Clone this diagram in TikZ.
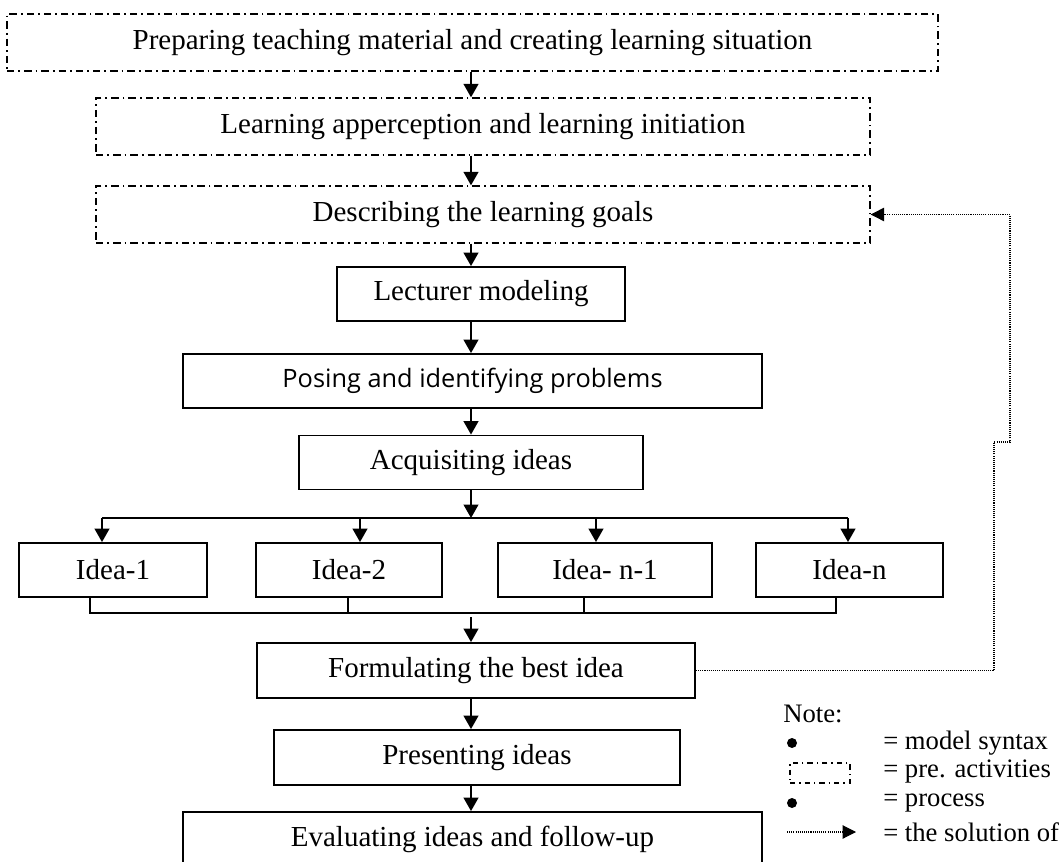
\documentclass[tikz,border=0pt]{standalone}
\usepackage{fontspec}
\setmainfont{Liberation Serif}
\newfontfamily\posefont{Open Sans}
\usetikzlibrary{arrows.meta,calc}

\tikzset{
  stagebox/.style={draw, line width=1.4pt, inner sep=0pt, minimum height=40.5pt,
    font=\fontsize{21.75}{26}\selectfont},
  prebox/.style={stagebox, line width=1pt, minimum height=42.75pt,
    dash pattern=on 5.6pt off 3pt on 1.3pt off 3pt},
  flow/.style={line width=1.3pt, -{Triangle[length=10pt,width=11pt]}},
  link/.style={line width=1.3pt},
  back/.style={line width=0.8pt, dash pattern=on 0.8pt off 0.8pt,
    -{Triangle[length=10pt,width=10pt]}},
  keydot/.style={circle, fill, inner sep=0pt, minimum size=7.5pt},
  notetext/.style={anchor=west, inner sep=0pt, font=\fontsize{20}{24}\selectfont}
}

\begin{document}
\begin{tikzpicture}[x=0.75pt, y=-0.75pt]
    \clip (0,0) rectangle (1063,862);

    % Pre-activities
    \node[prebox, minimum width=698.25pt] (prep) at (472.5,42.5)
        {Preparing teaching material and creating learning situation};
    \node[prebox, minimum width=580.5pt] (apper) at (483,126.5)
        {Learning apperception and learning initiation};
    \node[prebox, minimum width=580.5pt] (goals) at (483,214.5)
        {Describing the learning goals};

    % Process
    \node[stagebox, minimum width=216pt] (model) at (481,294) {Lecturer modeling};
    \node[stagebox, minimum width=434.25pt] (pose) at (472.5,381)
        {\posefont\fontsize{19}{23}\selectfont Posing and identifying problems};
    \node[stagebox, minimum width=258pt] (acq) at (471,462.5) {Acquisiting ideas};

    \node[stagebox, minimum width=141pt] (idea1) at (113,570) {Idea-1};
    \node[stagebox, minimum width=139.5pt] (idea2) at (349,570) {Idea-2};
    \node[stagebox, minimum width=160.5pt] (idea3) at (605,570) {Idea- n-1};
    \node[stagebox, minimum width=140.25pt] (idea4) at (849.5,570) {Idea-n};

    \node[stagebox, minimum width=328.5pt, minimum height=41.25pt] (best) at (476,670.5)
        {Formulating the best idea};
    \node[stagebox, minimum width=304.5pt, minimum height=41.25pt] (present) at (477,757.5)
        {Presenting ideas};
    \node[stagebox, minimum width=434.25pt, minimum height=41.25pt] (eval) at (472.5,839.5)
        {Evaluating ideas and follow-up};

    % Main line of arrows
    \coordinate (spine) at (471,0);
    \coordinate (split) at (471,518);
    \coordinate (merge) at (471,617);
    \draw[flow] (prep.south -| spine) -- (apper.north -| spine);
    \draw[flow] (apper.south -| spine) -- (goals.north -| spine);
    \draw[flow] (goals.south -| spine) -- (model.north -| spine);
    \draw[flow] (model.south -| spine) -- (pose.north -| spine);
    \draw[flow] (pose.south -| spine) -- (acq.north -| spine);
    \draw[flow] (acq.south -| spine) -- (split);

    % Branching to the ideas
    \coordinate (b1) at (102,518);
    \coordinate (b2) at (360,518);
    \coordinate (b3) at (596,518);
    \coordinate (b4) at (848,518);
    \draw[link] (b1) -- (b4);
    \draw[flow] (b1) -- (idea1.north -| b1);
    \draw[flow] (b2) -- (idea2.north -| b2);
    \draw[flow] (b3) -- (idea3.north -| b3);
    \draw[flow] (b4) -- (idea4.north -| b4);

    % Joining the ideas
    \coordinate (m1) at (90,613);
    \coordinate (m2) at (348,613);
    \coordinate (m3) at (584,613);
    \coordinate (m4) at (836,613);
    \draw[link] (idea1.south -| m1) -- (m1) -- (m4) -- (idea4.south -| m4);
    \draw[link] (idea2.south -| m2) -- (m2);
    \draw[link] (idea3.south -| m3) -- (m3);
    \draw[flow] (merge) -- (best.north -| spine);
    \draw[flow] (best.south -| spine) -- (present.north -| spine);
    \draw[flow] (present.south -| spine) -- (eval.north -| spine);

    % Feedback to the goals
    \coordinate (jogA) at (994,442);
    \coordinate (jogB) at (1010,442);
    \draw[back] (best.east) -| (jogA) -- (jogB) |- (goals.east);

    % Note
    \node[notetext] (note) at (783,714) {Note:};
    \node[keydot] (dotA) at (792,743) {};
    \node[notetext] (keyA) at (883,743) {= model syntax};
    \node[draw, line width=0.9pt, dash pattern=on 4pt off 3pt on 1pt off 3pt,
        inner sep=0pt, minimum width=45pt, minimum height=15pt] (preKey) at (820,773) {};
    \node[notetext] (keyB) at (883,772) {= pre. activities};
    \node[keydot] (dotB) at (792,803) {};
    \node[notetext] (keyC) at (883,803) {= process};
    \coordinate (solA) at (787,832);
    \coordinate (solB) at (856,832);
    \draw[back] (solA) -- (solB);
    \node[notetext] (keyD) at (883,832) {= the solution of};
\end{tikzpicture}
\end{document}
